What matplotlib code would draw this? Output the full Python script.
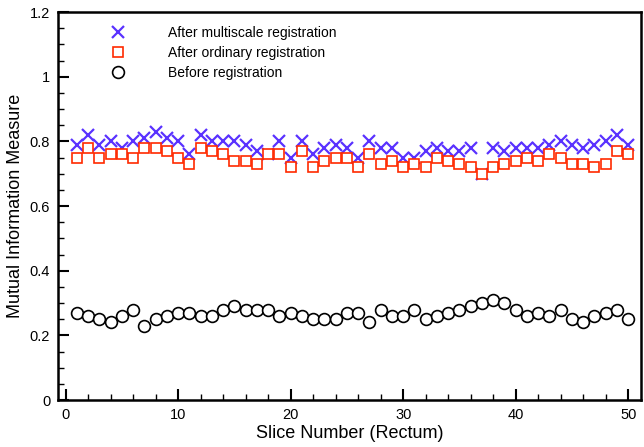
import numpy as np
import matplotlib.pyplot as plt
from matplotlib.ticker import MultipleLocator

plt.rcParams['font.family'] = ['Liberation Sans', 'DejaVu Sans']

slices = np.arange(1, 51)

multiscale = [0.79, 0.82, 0.79, 0.80, 0.78, 0.80, 0.81, 0.83, 0.81, 0.80,
              0.76, 0.82, 0.80, 0.80, 0.80, 0.79, 0.77, 0.76, 0.80, 0.75,
              0.80, 0.76, 0.78, 0.79, 0.78, 0.75, 0.80, 0.78, 0.78, 0.75,
              0.75, 0.77, 0.78, 0.77, 0.77, 0.78, 0.70, 0.78, 0.77, 0.78,
              0.78, 0.78, 0.79, 0.80, 0.79, 0.78, 0.79, 0.80, 0.82, 0.79]

ordinary = [0.75, 0.78, 0.75, 0.76, 0.76, 0.75, 0.78, 0.78, 0.77, 0.75,
            0.73, 0.78, 0.77, 0.76, 0.74, 0.74, 0.73, 0.76, 0.76, 0.72,
            0.77, 0.72, 0.74, 0.75, 0.75, 0.72, 0.76, 0.73, 0.74, 0.72,
            0.73, 0.72, 0.75, 0.74, 0.73, 0.72, 0.70, 0.72, 0.73, 0.74,
            0.75, 0.74, 0.76, 0.75, 0.73, 0.73, 0.72, 0.73, 0.77, 0.76]

before = [0.27, 0.26, 0.25, 0.24, 0.26, 0.28, 0.23, 0.25, 0.26, 0.27,
          0.27, 0.26, 0.26, 0.28, 0.29, 0.28, 0.28, 0.28, 0.26, 0.27,
          0.26, 0.25, 0.25, 0.25, 0.27, 0.27, 0.24, 0.28, 0.26, 0.26,
          0.28, 0.25, 0.26, 0.27, 0.28, 0.29, 0.30, 0.31, 0.30, 0.28,
          0.26, 0.27, 0.26, 0.28, 0.25, 0.24, 0.26, 0.27, 0.28, 0.25]

fig = plt.figure(figsize=(6.44, 4.47), dpi=100)
ax = fig.add_axes([0.0908, 0.105, 0.9045, 0.868])

ax.plot(slices, multiscale, 'x', color='#5a32ff', ms=8, mew=1.6,
        label='After multiscale registration', zorder=3)
ax.plot(slices, ordinary, 's', color='#ff2a00', mfc='white', ms=7.5, mew=1.2,
        label='After ordinary registration', zorder=4)
ax.plot(slices, before, 'o', color='black', mfc='white', ms=8.5, mew=1.2,
        label='Before registration', zorder=4)

ax.set_xlim(-0.64, 51.14)
ax.set_ylim(0, 1.2)
ax.xaxis.set_major_locator(MultipleLocator(10))
ax.xaxis.set_minor_locator(MultipleLocator(2))
ax.yaxis.set_minor_locator(MultipleLocator(0.05))
ax.set_yticks([0, 0.2, 0.4, 0.6, 0.8, 1.0, 1.2])
ax.set_yticklabels(['0', '0.2', '0.4', '0.6', '0.8', '1', '1.2'])

ax.tick_params(which='both', direction='in', labelsize=10.5, colors='black',
               top=False, right=False)
ax.tick_params(which='major', length=8, width=1.5, pad=6)
ax.tick_params(which='minor', length=4, width=1)
for s in ax.spines.values():
    s.set_linewidth(1.8)

ax.set_xlabel('Slice Number (Rectum)', fontsize=13, labelpad=2)
ax.set_ylabel('Mutual Information Measure', fontsize=13, labelpad=4)

ax.legend(loc='upper left', bbox_to_anchor=(0.0616, 1.007), frameon=False,
          fontsize=10, handlelength=1.0, handletextpad=3.1,
          labelspacing=0.44, borderaxespad=0.8)

fig.savefig('out.png', dpi=100)
